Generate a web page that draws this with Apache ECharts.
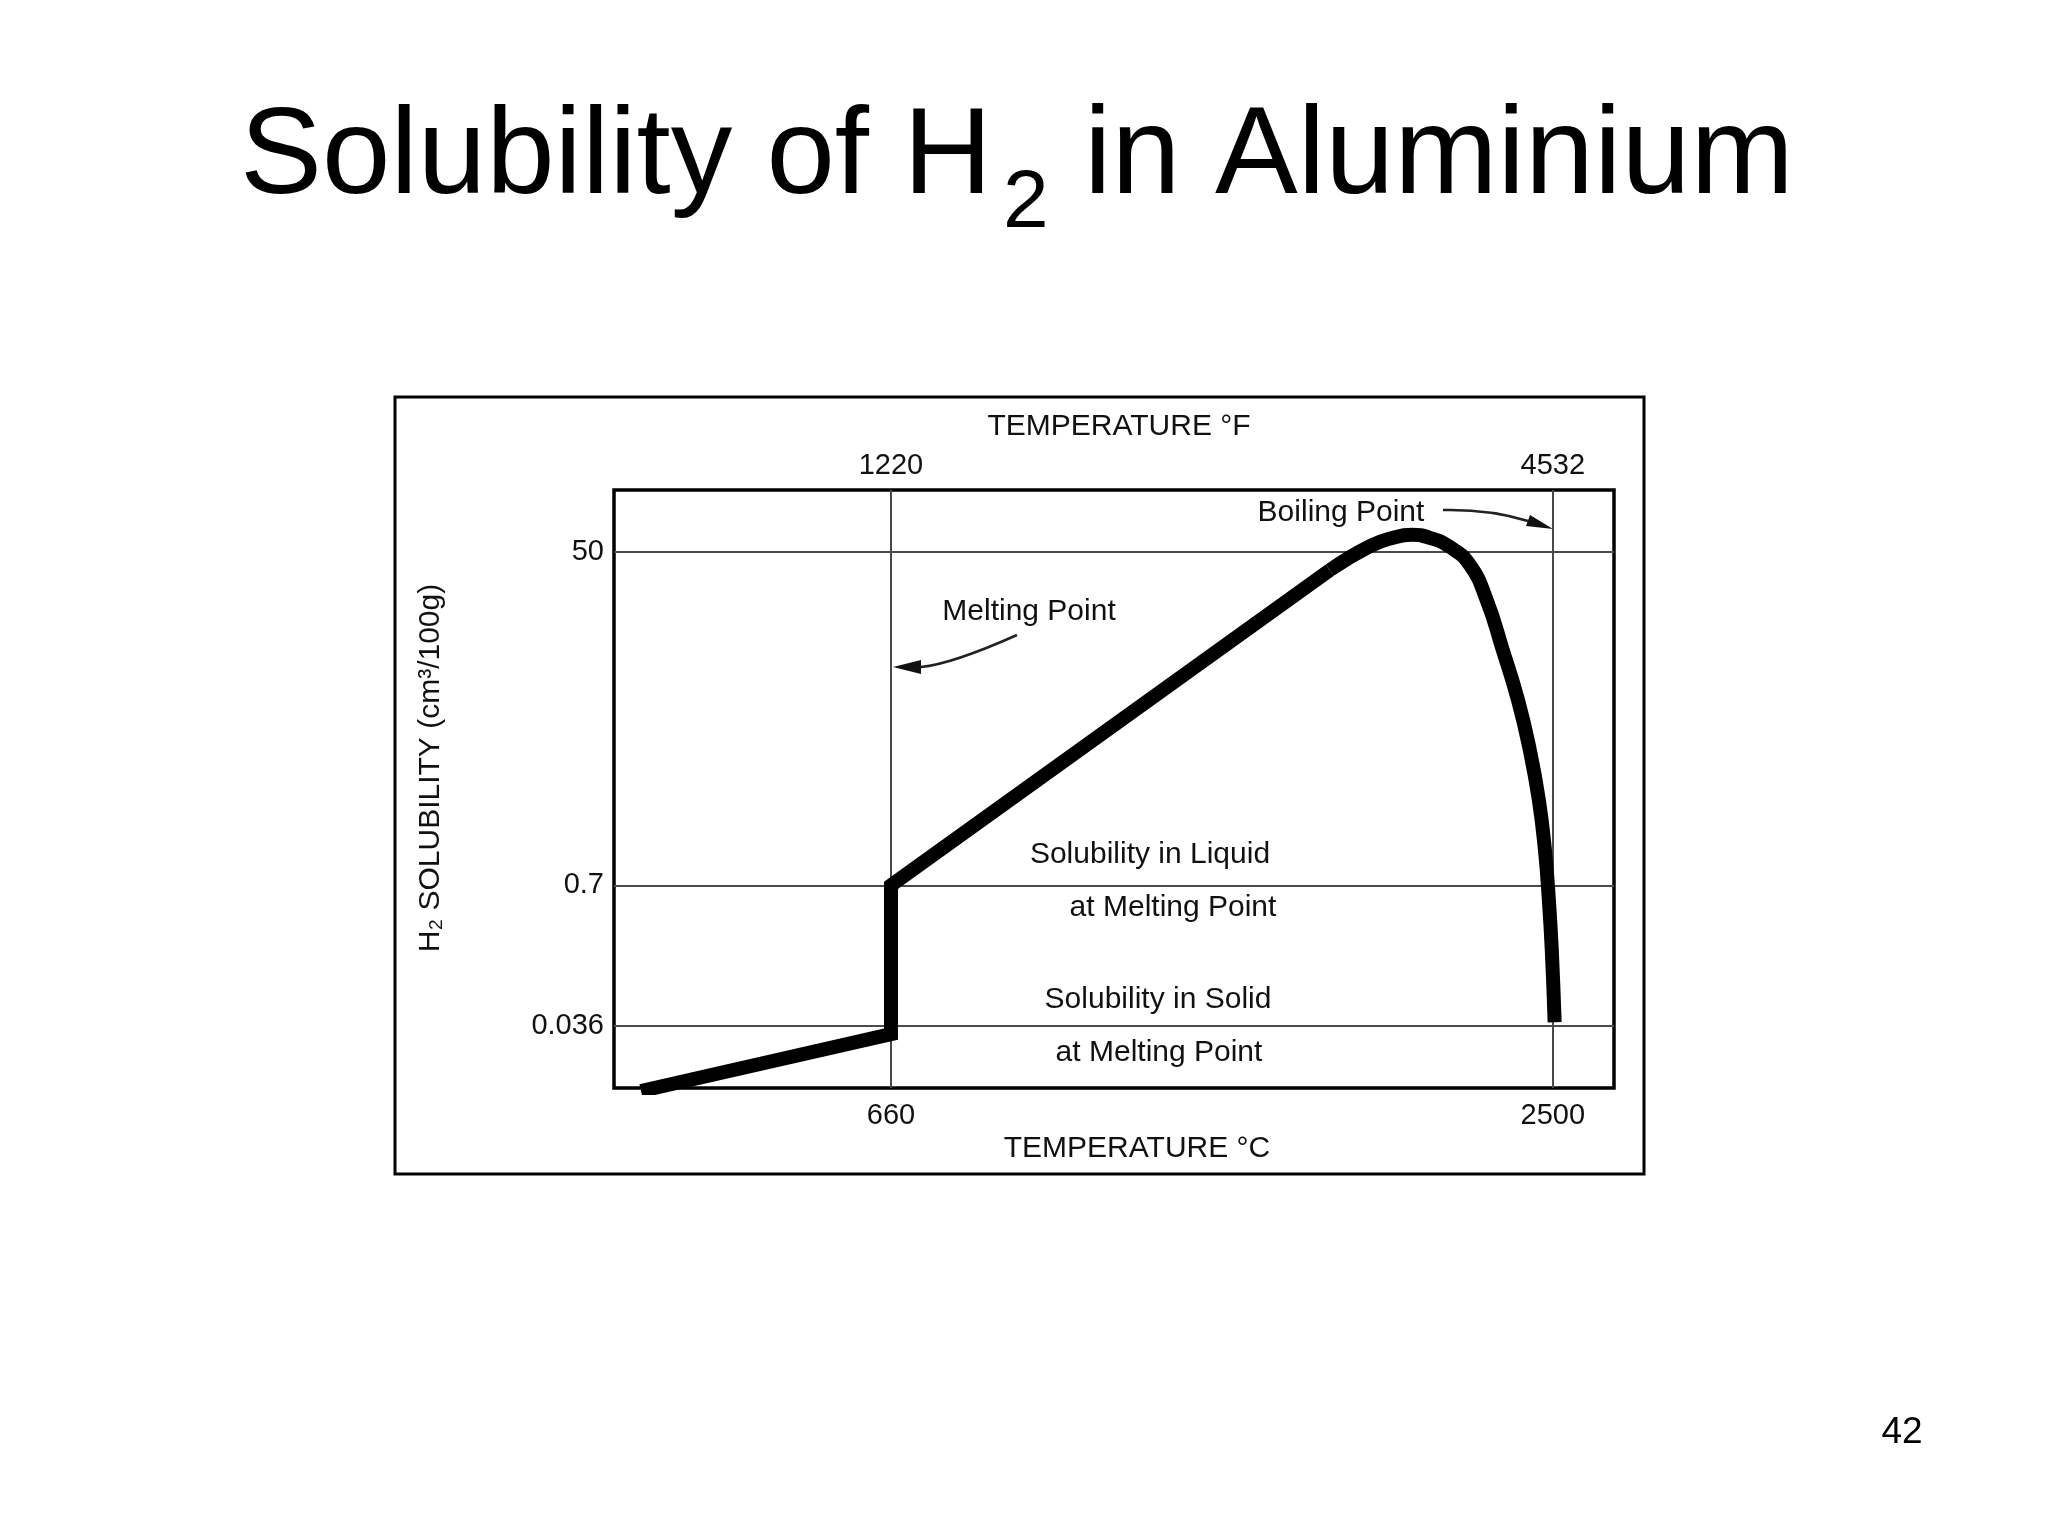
<!DOCTYPE html>
<html>
<head>
<meta charset="utf-8">
<style>
  html, body { margin: 0; padding: 0; background: #fff; }
  #chart { width: 2048px; height: 1536px; }
</style>
<script src="https://cdn.jsdelivr.net/npm/echarts@6/dist/echarts.min.js"></script>
</head>
<body>
<div id="chart"></div>
<script>
// ---- Data (schematic H2 solubility curve) ----
// Temperature in °C
const tempC = [-35, 660, 660, 1880, 1991, 2061, 2108, 2158, 2213, 2269, 2316, 2361, 2403, 2436, 2461, 2478, 2489, 2497, 2505];
// Height on the (non-uniform, schematic) solubility scale, 0..100
const level = [-0.5, 9.0, 33.9, 86.6, 90.6, 92.1, 92.5, 92.0, 90.5, 87.5, 81.6, 73.2, 64.9, 56.5, 48.2, 39.8, 31.4, 23.1, 11.0];
// index where the straight (solid / melting / linear liquid) part ends and the rounded top begins
const straightEnd = 3;

// Tick labels
const xTicksC = [660, 2500];        // melting point, boiling point (°C)
const xTicksF = [1220, 4532];       // same points in °F
const yTickLabels = ['0.036', '0.7', '50'];   // cm³/100g
const yTickLevels = [10.4, 33.9, 89.6];       // where they sit on the schematic scale

const xMinC = -110, xMaxC = 2670;
const toF = c => c * 1.8 + 32;

const FONT = 'Liberation Sans, Arial, Helvetica, sans-serif';
const TXT = '#111';

const chart = echarts.init(document.getElementById('chart'));

function txt(x, y, text, size, extra) {
  return Object.assign({
    type: 'text', x: x, y: y, z: 10,
    style: { text: text, fontSize: size, fontFamily: FONT, fill: TXT, align: 'center', verticalAlign: 'middle' }
  }, extra || {});
}
function titleTxt(x, y, text, size) {
  return { type: 'text', x: x, y: y, z: 10,
    style: { text: text, fontSize: size, fontFamily: FONT, fill: '#000', align: 'left', verticalAlign: 'middle' } };
}

const pts = tempC.map((t, i) => [t, level[i]]);
const curveStyle = { color: '#000', width: 14, join: 'miter', cap: 'butt' };
const plain = v => String(v);

const option = {
  backgroundColor: '#fff',
  animation: false,
  grid: { left: 614, top: 490, width: 1000, height: 598, show: true, borderColor: '#000', borderWidth: 3.5, backgroundColor: 'transparent', containLabel: false },
  xAxis: [
    {
      type: 'value', position: 'bottom', min: xMinC, max: xMaxC,
      axisLine: { show: false }, axisTick: { show: false }, splitLine: { show: false },
      axisLabel: { customValues: xTicksC, formatter: plain, margin: 13, fontSize: 29, fontFamily: FONT, color: TXT }
    },
    {
      type: 'value', position: 'top', min: toF(xMinC), max: toF(xMaxC),
      axisLine: { show: false }, axisTick: { show: false }, splitLine: { show: false },
      axisLabel: { customValues: xTicksF, formatter: plain, margin: 10, fontSize: 29, fontFamily: FONT, color: TXT }
    }
  ],
  yAxis: {
    type: 'value', min: 0, max: 100,
    axisLine: { show: false }, axisTick: { show: false }, splitLine: { show: false },
    axisLabel: {
      customValues: yTickLevels, margin: 10, fontSize: 29, fontFamily: FONT, color: TXT,
      formatter: function (v) {
        let best = 0;
        for (let i = 1; i < yTickLevels.length; i++) {
          if (Math.abs(yTickLevels[i] - v) < Math.abs(yTickLevels[best] - v)) best = i;
        }
        return yTickLabels[best];
      }
    }
  },
  series: [
    {
      type: 'line', z: 2, data: [],
      markLine: {
        silent: true, symbol: ['none', 'none'], label: { show: false },
        lineStyle: { color: '#4a4a4a', width: 2, type: 'solid' },
        emphasis: { disabled: true },
        data: xTicksC.map(v => ({ xAxis: v })).concat(yTickLevels.map(v => ({ yAxis: v })))
      }
    },
    {
      type: 'line', z: 5, clip: true, symbol: 'none', showSymbol: false,
      data: pts.slice(0, straightEnd + 1),
      lineStyle: curveStyle
    },
    {
      type: 'line', z: 5, clip: true, symbol: 'none', showSymbol: false,
      smooth: 0.5,
      data: pts.slice(straightEnd),
      lineStyle: curveStyle
    }
  ],
  graphic: [
    // outer frame of the figure
    { type: 'rect', z: 1, shape: { x: 395, y: 397, width: 1249, height: 777 }, style: { stroke: '#000', lineWidth: 3, fill: null } },
    // slide title
    titleTxt(240, 159, 'Solubility of H', 123),
    titleTxt(1003, 204, '2', 82),
    titleTxt(1084, 159, 'in Aluminium', 124),
    // page number
    { type: 'text', x: 1902, y: 1433, z: 10, style: { text: '42', fontSize: 37, fontFamily: FONT, fill: '#000', align: 'center', verticalAlign: 'middle' } },
    // axis titles
    txt(1119, 427, 'TEMPERATURE °F', 30),
    txt(1137, 1149, 'TEMPERATURE °C', 30),
    txt(431, 768, 'H₂ SOLUBILITY (cm³/100g)', 30, { rotation: Math.PI / 2 }),
    // annotations
    txt(1029, 612, 'Melting Point', 30),
    txt(1341, 513, 'Boiling Point', 30),
    txt(1150, 855, 'Solubility in Liquid', 30),
    txt(1173, 908, 'at Melting Point', 30),
    txt(1158, 1000, 'Solubility in Solid', 30),
    txt(1159, 1053, 'at Melting Point', 30),
    // arrows
    { type: 'bezierCurve', z: 10, shape: { x1: 1017, y1: 635, x2: 921, y2: 667, cpx1: 952, cpy1: 664 }, style: { stroke: '#222', lineWidth: 2.5, fill: null } },
    { type: 'polygon', z: 10, shape: { points: [[893, 667], [921, 660], [921, 674]] }, style: { fill: '#111' } },
    { type: 'bezierCurve', z: 10, shape: { x1: 1443, y1: 510, x2: 1528, y2: 521, cpx1: 1490, cpy1: 509 }, style: { stroke: '#222', lineWidth: 2.5, fill: null } },
    { type: 'polygon', z: 10, shape: { points: [[1553, 529], [1526, 526], [1530, 515]] }, style: { fill: '#111' } }
  ]
};

chart.setOption(option);
</script>
</body>
</html>
